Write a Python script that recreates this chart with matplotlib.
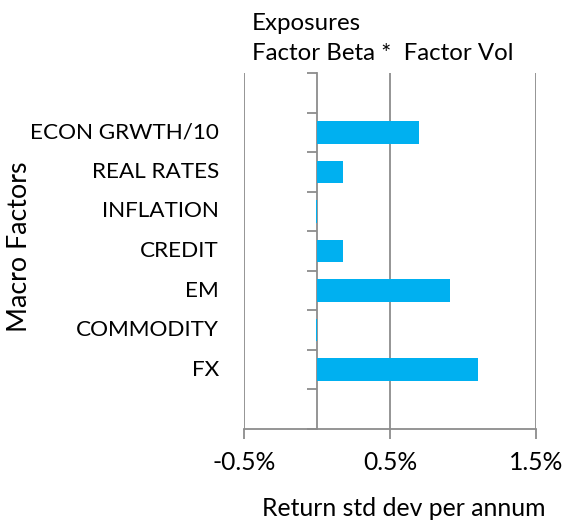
import numpy as np
import matplotlib
matplotlib.use("Agg")
import matplotlib.pyplot as plt
from matplotlib.ticker import FuncFormatter
from matplotlib.transforms import blended_transform_factory

plt.rcParams['font.family'] = ['Lato', 'DejaVu Sans']

categories = ["ECON GRWTH/10", "REAL RATES", "INFLATION", "CREDIT", "EM", "COMMODITY", "FX"]
values = [0.70, 0.18, -0.005, 0.18, 0.91, -0.005, 1.10]  # percent per annum
xticks = [-0.5, 0.5, 1.5]

BAR = "#00B0F0"
GRID = "#8C8C8C"

fig = plt.figure(figsize=(5.64, 5.21), dpi=100)
ax = fig.add_axes([244.3/564, 1-429/521, (536-244.3)/564, (429-73)/521])

pos = np.arange(len(categories))
ax.barh(pos, values, height=0.57, color=BAR, zorder=3)

ax.set_xlim(xticks[0], xticks[-1])
ax.set_ylim(len(categories) + 0.5, -1.5)
ax.set_xticks(xticks)
ax.xaxis.set_major_formatter(FuncFormatter(lambda v, p: f"{v:.1f}%"))
ax.grid(axis='x', color=GRID, linewidth=1.3, zorder=1)
ax.tick_params(axis='x', direction='out', length=7, width=1.3, color=GRID,
               labelsize=17.7, pad=9)

ax.set_yticks(np.arange(-1.5, len(categories) + 1, 1.0))
ax.set_yticklabels([])
ax.tick_params(axis='y', direction='out', length=7, width=1.3, color=GRID)
ax.spines['left'].set_position(('data', 0))
for s in ['left', 'bottom']:
    ax.spines[s].set_color(GRID)
    ax.spines[s].set_linewidth(1.3)
for s in ['top', 'right']:
    ax.spines[s].set_visible(False)

tr = blended_transform_factory(ax.transAxes, ax.transData)
for p, c in zip(pos, categories):
    ax.text(-0.0867, p, c, transform=tr, ha='right', va='center', fontsize=16.2)

fig.text(252/564, 1-29.5/521, "Exposures", fontsize=17.3, ha='left', va='baseline')
fig.text(252/564, 1-60.5/521, "Factor Beta *  Factor Vol", fontsize=17.3, ha='left', va='baseline')
fig.text(404/564, 1-516.5/521, "Return std dev per annum", fontsize=17.8, ha='center', va='baseline')
fig.text(20/564, 1-246.5/521, "Macro Factors", fontsize=19.3, rotation=90, ha='center', va='center')

fig.savefig("out.png", dpi=100)
